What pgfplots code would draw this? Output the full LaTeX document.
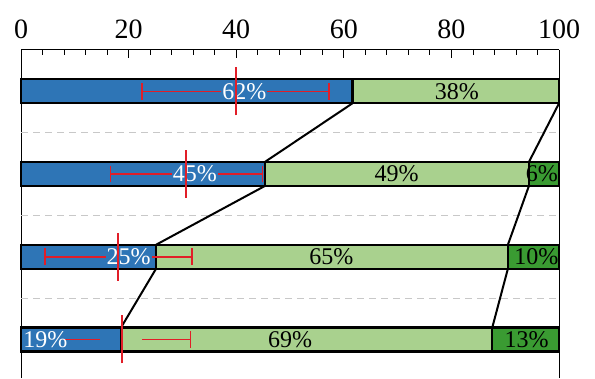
\documentclass[border=0pt]{standalone}
\usepackage{fontspec}
\setmainfont{Liberation Serif}
\usepackage{pgfplots}
\pgfplotsset{compat=1.18}
\definecolor{bblue}{RGB}{46,117,182}
\definecolor{lgreen}{RGB}{169,209,142}
\definecolor{dgreen}{RGB}{58,155,50}
\definecolor{ered}{RGB}{225,30,40}
\definecolor{dgray}{RGB}{200,200,200}
\tikzset{lbl/.style={font=\fontsize{24bp}{26bp}\selectfont, inner sep=1pt}}
\begin{document}
\begin{tikzpicture}
\begin{axis}[
  scale only axis, width=538bp, height=328bp,
  xmin=0, xmax=100, ymin=0.534, ymax=4.5,
  axis x line*=top, axis y line*=box,
  ytick=\empty,
  xtick={0,20,...,100}, minor x tick num=4,
  tick align=inside, major tick length=8bp, minor tick length=5bp,
  tick style={black, line width=0.8bp},
  xticklabel style={font=\fontsize{28bp}{30bp}\selectfont, yshift=8bp},
  /pgf/number format/assume math mode=true,
  bar width=0.29,
  axis line style={black, line width=1bp},
  clip=false,
]
% bars (cumulative, drawn back to front)
\addplot[xbar, bar shift=0pt, fill=dgreen, draw=black, line width=2.2bp] coordinates {(100,4) (100,3) (100,2) (100,1)};
\addplot[xbar, bar shift=0pt, fill=lgreen, draw=black, line width=2.2bp] coordinates {(100,4) (94.4,3) (90.5,2) (87.6,1)};
\addplot[xbar, bar shift=0pt, fill=bblue, draw=black, line width=2.2bp] coordinates {(61.6,4) (45.3,3) (25.1,2) (18.6,1)};
% dashed separators
\addplot[dgray, line width=1.2bp, dash pattern=on 7bp off 5bp] coordinates {(0,3.5) (100,3.5)};
\addplot[dgray, line width=1.2bp, dash pattern=on 7bp off 5bp] coordinates {(0,2.5) (100,2.5)};
\addplot[dgray, line width=1.2bp, dash pattern=on 7bp off 5bp] coordinates {(0,1.5) (100,1.5)};
% connectors
\addplot[black, line width=2bp] coordinates {(61.6,3.855) (45.3,3.145)};
\addplot[black, line width=2bp] coordinates {(100,3.855) (94.4,3.145)};
\addplot[black, line width=2bp] coordinates {(45.3,2.855) (25.1,2.145)};
\addplot[black, line width=2bp] coordinates {(94.4,2.855) (90.5,2.145)};
\addplot[black, line width=2bp] coordinates {(25.1,1.855) (18.6,1.145)};
\addplot[black, line width=2bp] coordinates {(90.5,1.855) (87.6,1.145)};
% whiskers
\addplot[ered, line width=1.6bp] coordinates {(22.5,4) (57.2,4)};
\addplot[ered, line width=1.6bp] coordinates {(22.5,3.9) (22.5,4.1)};
\addplot[ered, line width=1.6bp] coordinates {(57.2,3.9) (57.2,4.1)};
\addplot[ered, line width=1.6bp] coordinates {(16.6,3) (44.9,3)};
\addplot[ered, line width=1.6bp] coordinates {(16.6,2.9) (16.6,3.1)};
\addplot[ered, line width=1.6bp] coordinates {(44.9,2.9) (44.9,3.1)};
\addplot[ered, line width=1.6bp] coordinates {(4.5,2) (31.8,2)};
\addplot[ered, line width=1.6bp] coordinates {(4.5,1.9) (4.5,2.1)};
\addplot[ered, line width=1.6bp] coordinates {(31.8,1.9) (31.8,2.1)};
\addplot[ered, line width=1.6bp] coordinates {(7.8,1) (14.7,1)};
\addplot[ered, line width=1.6bp] coordinates {(22.5,1) (31.5,1)};
\addplot[ered, line width=1.6bp] coordinates {(31.5,0.9) (31.5,1.1)};
% labels
\addplot[draw=none] coordinates {(41.5,4)} node[lbl, text=white, fill=bblue] {62\%};
\addplot[draw=none] coordinates {(32.3,3)} node[lbl, text=white, fill=bblue] {45\%};
\addplot[draw=none] coordinates {(20,2)} node[lbl, text=white, fill=bblue] {25\%};
\addplot[draw=none] coordinates {(0.2,1)} node[lbl, text=white, anchor=west] {19\%};
\addplot[draw=none] coordinates {(81,4)} node[lbl, text=black] {38\%};
\addplot[draw=none] coordinates {(69.8,3)} node[lbl, text=black] {49\%};
\addplot[draw=none] coordinates {(100,3)} node[lbl, text=black, anchor=east] {6\%};
\addplot[draw=none] coordinates {(57.7,2)} node[lbl, text=black] {65\%};
\addplot[draw=none] coordinates {(95.8,2)} node[lbl, text=black] {10\%};
\addplot[draw=none] coordinates {(50,1)} node[lbl, text=black] {69\%};
\addplot[draw=none] coordinates {(94,1)} node[lbl, text=black] {13\%};
% mean markers
\addplot[ered, line width=2bp] coordinates {(40,3.71) (40,4.29)};
\addplot[ered, line width=2bp] coordinates {(30.7,2.715) (30.7,3.285)};
\addplot[ered, line width=2bp] coordinates {(18.1,1.71) (18.1,2.29)};
\addplot[ered, line width=2bp] coordinates {(18.8,0.71) (18.8,1.29)};
\end{axis}
\path ([xshift=-21bp]current axis.south west) rectangle ([xshift=36bp,yshift=50bp]current axis.north east);
\end{tikzpicture}
\end{document}
